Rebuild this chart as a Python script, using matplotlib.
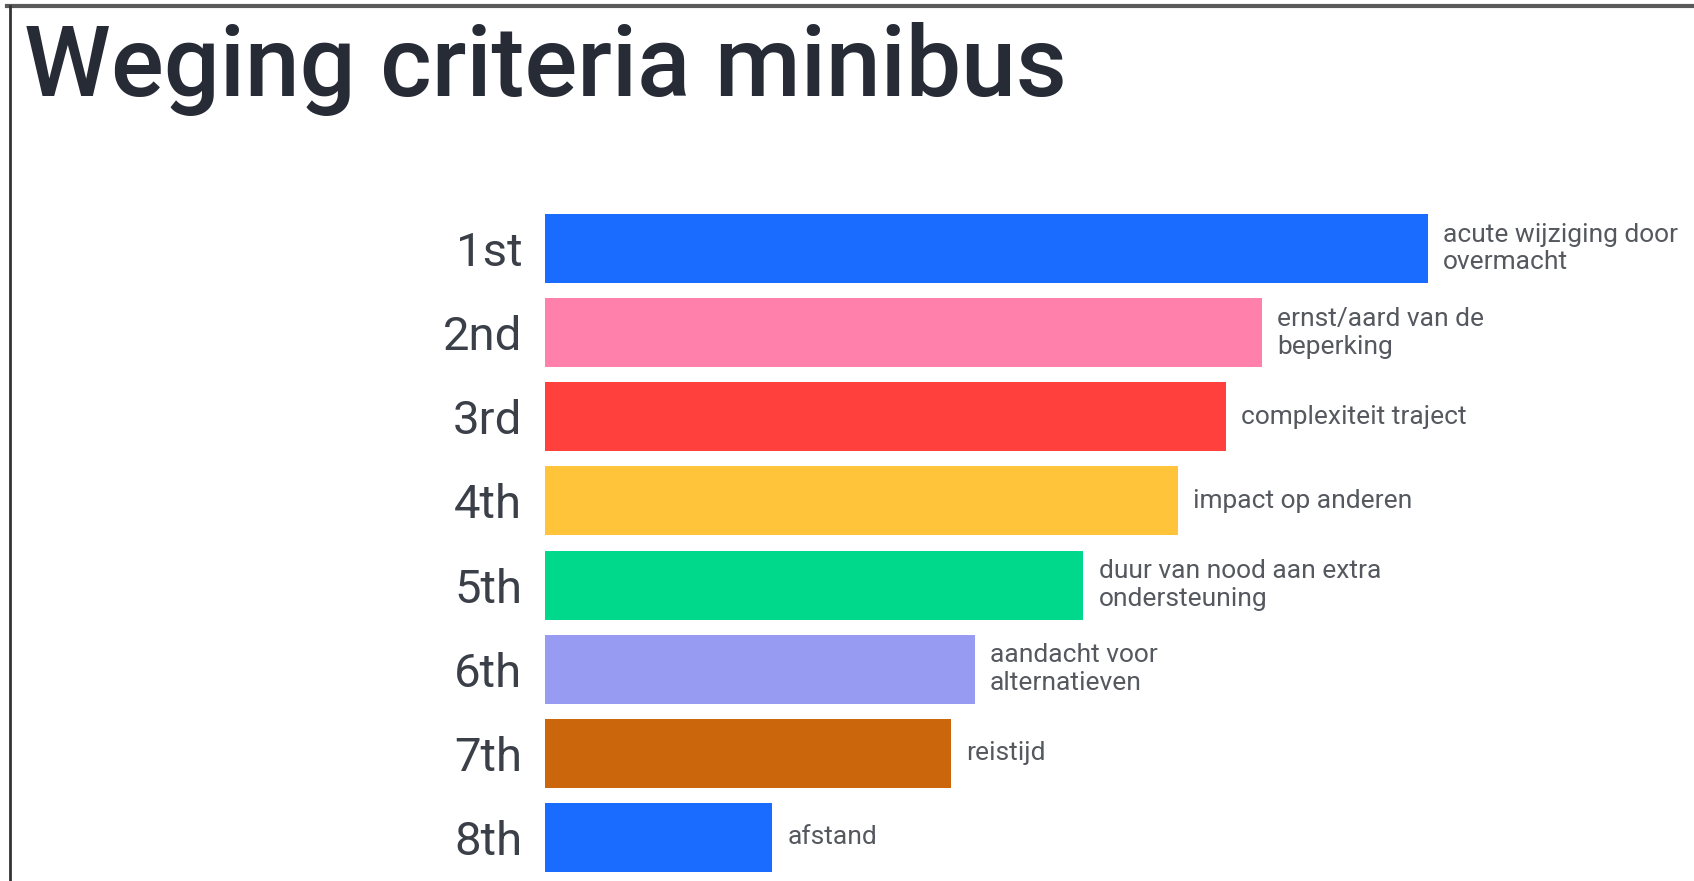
import matplotlib.pyplot as plt
from matplotlib.lines import Line2D

# ranking results (score relative to the top item)
ranks = ["1st", "2nd", "3rd", "4th", "5th", "6th", "7th", "8th"]
criteria = [
    "acute wijziging door\novermacht",
    "ernst/aard van de\nbeperking",
    "complexiteit traject",
    "impact op anderen",
    "duur van nood aan extra\nondersteuning",
    "aandacht voor\nalternatieven",
    "reistijd",
    "afstand",
]
scores = [100, 81.2, 77.1, 71.7, 61.0, 48.7, 46.0, 25.8]
colors = ["#196cff", "#ff80ab", "#ff403d", "#ffc43a",
          "#00d98b", "#979cf2", "#cc660d", "#196cff"]

FONT = ["Roboto", "DejaVu Sans"]

W, H = 1694, 881
fig = plt.figure(figsize=(W / 100, H / 100), dpi=100)
fig.patch.set_facecolor("white")

# frame lines along the top and left edge
fig.add_artist(Line2D([0.004, 1], [1 - 6 / H, 1 - 6 / H], color="#5a5a5a", lw=3))
fig.add_artist(Line2D([10 / W, 10 / W], [0, 1 - 6 / H], color="#333333", lw=2))

fig.text(24 / W, 1 - 96 / H, "Weging criteria minibus", fontsize=71,
         family=FONT, fontweight="medium", color="#262b36",
         va="baseline", ha="left")

ax_left, ax_top = 544.5, 150
ax = fig.add_axes([ax_left / W, 0, 1 - ax_left / W, 1 - ax_top / H])
px_per_unit = 883.5 / 100
ax.set_xlim(0, (W - ax_left) / px_per_unit)
pitch = 84.14
ax.set_ylim(7 + (H - 837.5) / pitch, -(248.5 - ax_top) / pitch)

y = list(range(len(ranks)))
ax.barh(y, scores, height=0.82, color=colors)

for i, (s, txt) in enumerate(zip(scores, criteria)):
    ax.annotate(txt, (s, i), xytext=(11, 0), textcoords="offset points",
                va="center", ha="left", fontsize=19, color="#55595f",
                family=FONT, linespacing=1.2)

ax.set_yticks(y)
ax.set_yticklabels(ranks, fontsize=34, color="#3a3f48", family=FONT)
ax.tick_params(axis="y", length=0, pad=16)
ax.set_xticks([])
for sp in ax.spines.values():
    sp.set_visible(False)

fig.savefig("out.png", dpi=100)
